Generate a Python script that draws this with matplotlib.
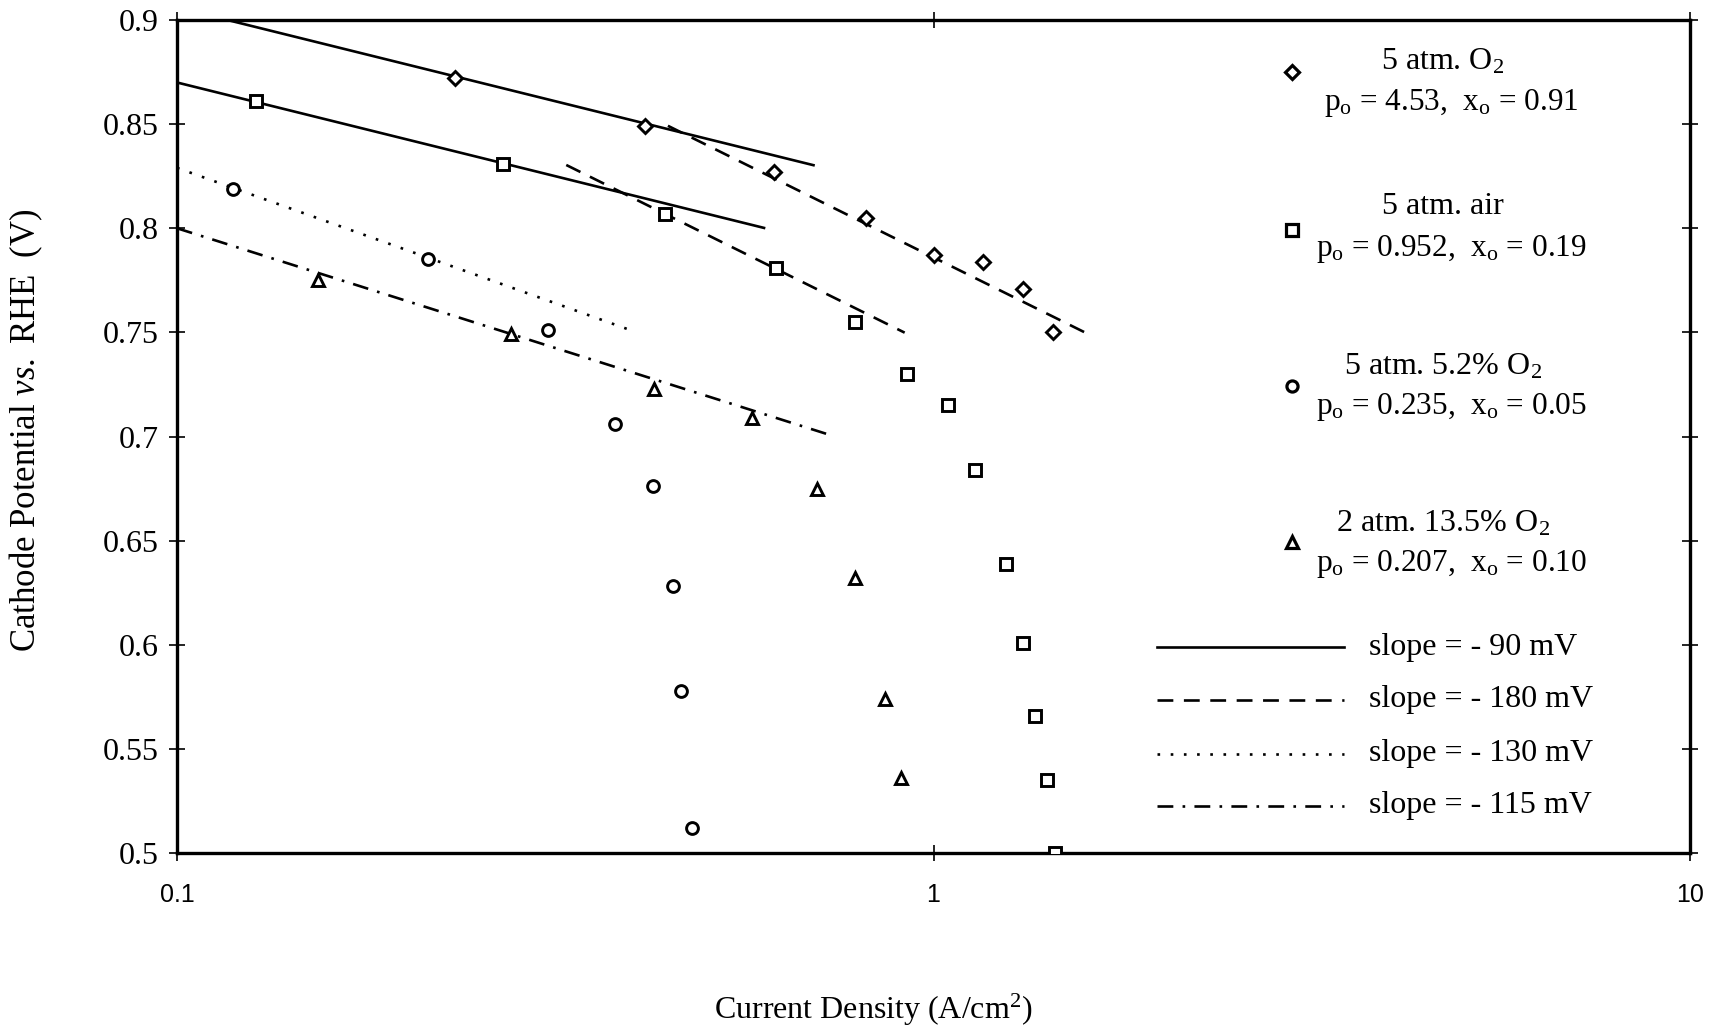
import numpy as np
import matplotlib
matplotlib.use("Agg")
import matplotlib.pyplot as plt
from matplotlib.lines import Line2D
from matplotlib.ticker import NullLocator, FixedLocator, FixedFormatter

plt.rcParams["font.family"] = ["Liberation Serif", "DejaVu Serif"]
plt.rcParams["mathtext.fontset"] = "custom"
plt.rcParams["mathtext.rm"] = "Liberation Serif"
plt.rcParams["mathtext.it"] = "Liberation Serif:italic"

# Measured polarization data: current density (A/cm2) and cathode potential (V vs RHE)
o2_5atm_i = [0.233, 0.415, 0.615, 0.815, 1.000, 1.163, 1.313, 1.437]
o2_5atm_v = [0.872, 0.849, 0.827, 0.805, 0.787, 0.784, 0.771, 0.750]

air_5atm_i = [0.127, 0.270, 0.441, 0.619, 0.788, 0.923, 1.044, 1.136, 1.248, 1.313, 1.362, 1.414, 1.446]
air_5atm_v = [0.861, 0.831, 0.807, 0.781, 0.755, 0.730, 0.715, 0.684, 0.639, 0.601, 0.566, 0.535, 0.500]

o2_52_i = [0.1187, 0.215, 0.309, 0.379, 0.426, 0.453, 0.464, 0.479]
o2_52_v = [0.819, 0.785, 0.751, 0.706, 0.676, 0.628, 0.578, 0.512]

o2_135_i = [0.1537, 0.2765, 0.4277, 0.575, 0.7005, 0.788, 0.863, 0.907]
o2_135_v = [0.775, 0.749, 0.723, 0.709, 0.675, 0.632, 0.574, 0.536]

# Tafel fits: slope (V/decade), potential at 1 A/cm2, current range drawn
tafel_slopes = [-0.090, -0.090, -0.180, -0.180, -0.130, -0.115]
tafel_v_at_1 = [0.816, 0.780, 0.786, 0.743, 0.699, 0.685]
tafel_i_start = [0.1, 0.1, 0.4456, 0.327, 0.1, 0.1]
tafel_i_end = [0.694, 0.597, 1.61, 0.916, 0.397, 0.724]
tafel_style = ["solid", "solid", "dash", "dash", "dot", "dashdot"]

series_titles = ["5 atm. O$_2$", "5 atm. air", "5 atm. 5.2% O$_2$", "2 atm. 13.5% O$_2$"]
series_params = ["p$_\\mathrm{o}$ = 4.53,  x$_\\mathrm{o}$ = 0.91",
                 "p$_\\mathrm{o}$ = 0.952,  x$_\\mathrm{o}$ = 0.19",
                 "p$_\\mathrm{o}$ = 0.235,  x$_\\mathrm{o}$ = 0.05",
                 "p$_\\mathrm{o}$ = 0.207,  x$_\\mathrm{o}$ = 0.10"]
slope_labels = ["slope = - 90 mV", "slope = - 180 mV", "slope = - 130 mV", "slope = - 115 mV"]

y_ticks = [0.5, 0.55, 0.6, 0.65, 0.7, 0.75, 0.8, 0.85, 0.9]
y_tick_labels = ["0.5", "0.55", "0.6", "0.65", "0.7", "0.75", "0.8", "0.85", "0.9"]
x_ticks = [0.1, 1, 10]
x_tick_labels = ["0.1", "1", "10"]

W, H = 1720, 1031
fig = plt.figure(figsize=(W / 100, H / 100), dpi=100)
ax = fig.add_axes([177 / W, 1 - 853 / H, (1690 - 177) / W, (853 - 20) / H])

lw = 1.9
dash_styles = {
    "solid": dict(linestyle="-"),
    "dash": dict(linestyle=(0, (6, 4))),
    "dot": dict(linestyle=(0, (1, 4))),
    "dashdot": dict(linestyle=(0, (6, 3.5, 1, 3.5))),
}

for s, v1, i0, i1, st in zip(tafel_slopes, tafel_v_at_1, tafel_i_start, tafel_i_end, tafel_style):
    ii = np.array([i0, i1])
    vv = v1 + s * np.log10(ii)
    ax.plot(ii, vv, color="black", lw=lw, **dash_styles[st])

mk = dict(linestyle="none", markerfacecolor="white", markeredgecolor="black", markeredgewidth=2.1, zorder=3)
ax.plot(o2_5atm_i, o2_5atm_v, marker="D", markersize=7.5, **mk)
ax.plot(air_5atm_i, air_5atm_v, marker="s", markersize=9, **mk)
ax.plot(o2_52_i, o2_52_v, marker="o", markersize=8.5, **mk)
ax.plot(o2_135_i, o2_135_v, marker="^", markersize=9, **mk)

ax.set_xscale("log")
ax.set_xlim(0.1, 10)
ax.set_ylim(0.5, 0.9)
ax.xaxis.set_major_locator(FixedLocator(x_ticks))
ax.xaxis.set_major_formatter(FixedFormatter(x_tick_labels))
ax.xaxis.set_minor_locator(NullLocator())
ax.yaxis.set_major_locator(FixedLocator(y_ticks))
ax.yaxis.set_major_formatter(FixedFormatter(y_tick_labels))

for sp in ax.spines.values():
    sp.set_linewidth(2.4)
ax.tick_params(axis="both", which="major", direction="inout", length=11, width=1.2,
               top=True, right=True)
ax.tick_params(axis="y", labelsize=23, pad=8)
ax.tick_params(axis="x", labelsize=18, pad=16)
for lab in ax.get_xticklabels():
    lab.set_fontfamily(["Liberation Sans", "DejaVu Sans"])

fig.text(26 / W, 1 - 430 / H, "Cathode Potential $\\mathit{vs.}$ RHE  (V)",
         rotation=90, ha="center", va="center", fontsize=25)
fig.text(873 / W, 1 - 1010 / H, "Current Density (A/cm$^2$)",
         ha="center", va="center", fontsize=23)

# Key for the data series
marker_y = [72, 230, 386, 542]
title_y = [62, 207, 367, 524]
param_y = [103, 249, 407, 564]
marker_kinds = [("D", 7.0), ("s", 8.5), ("o", 8.0), ("^", 8.5)]
for (m, ms), my, ty, py, t1, t2 in zip(marker_kinds, marker_y, title_y, param_y, series_titles, series_params):
    fig.add_artist(Line2D([1292 / W], [1 - my / H], marker=m, markersize=ms,
                          markerfacecolor="white", markeredgecolor="black",
                          markeredgewidth=2.3, linestyle="none"))
    fig.text(1443 / W, 1 - ty / H, t1, ha="center", va="center", fontsize=23)
    fig.text(1451 / W, 1 - py / H, t2, ha="center", va="center", fontsize=22.5)

# Key for the Tafel fit lines
line_y = [647, 700, 754, 806]
for st, ly, lab in zip(["solid", "dash", "dot", "dashdot"], line_y, slope_labels):
    fig.add_artist(Line2D([1157 / W, 1344 / W], [1 - ly / H, 1 - ly / H],
                          color="black", lw=lw, **dash_styles[st]))
    fig.text(1369 / W, 1 - ly / H, lab, ha="left", va="center", fontsize=23)

fig.savefig("out.png", dpi=100, facecolor="white")
